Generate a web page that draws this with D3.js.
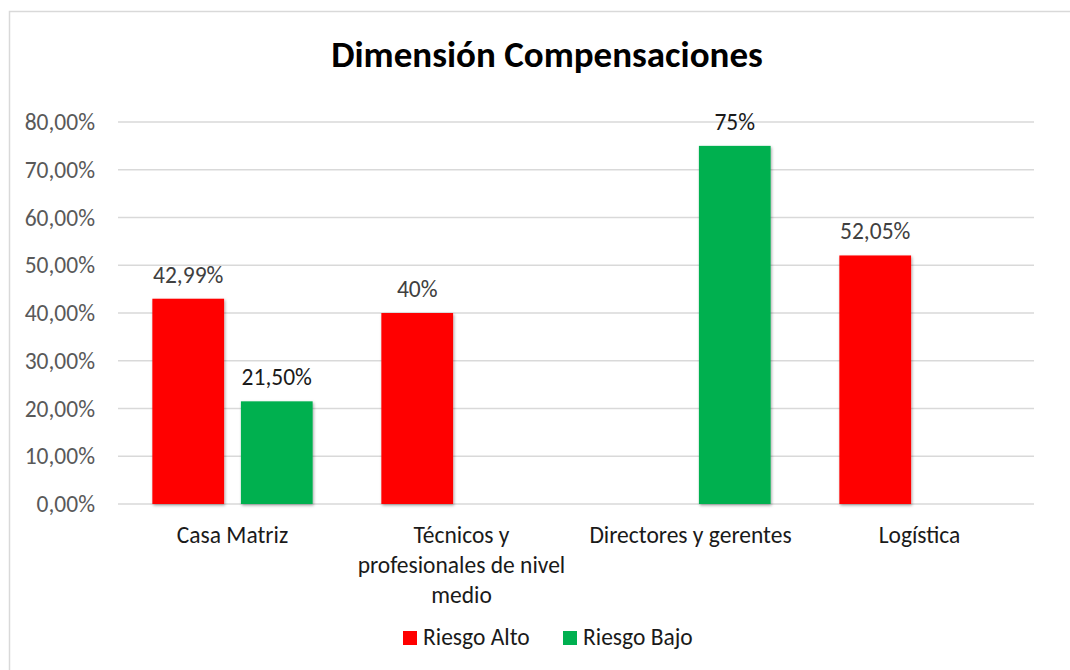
<!DOCTYPE html>
<html>
<head>
<meta charset="utf-8">
<script src="https://cdn.jsdelivr.net/npm/d3@7/dist/d3.min.js"></script>
<style>
  html, body { margin: 0; padding: 0; background: #fff; }
  svg { display: block; }
  text { font-family: Carlito, Calibri, Lato, "Open Sans", sans-serif; }
</style>
</head>
<body>
<svg id="chart" width="1070" height="670"></svg>
<script>
// Chart data
const categories = [
  "Casa Matriz",
  "Técnicos y profesionales de nivel medio",
  "Directores y gerentes",
  "Logística"
];
const categoryLines = [
  ["Casa Matriz"],
  ["Técnicos y", "profesionales de nivel", "medio"],
  ["Directores y gerentes"],
  ["Logística"]
];
const seriesNames = ["Riesgo Alto", "Riesgo Bajo"];
const riesgoAlto = [42.99, 40, null, 52.05];
const riesgoBajo = [21.50, null, 75, null];
const valueLabels = {
  "Riesgo Alto": ["42,99%", "40%", null, "52,05%"],
  "Riesgo Bajo": ["21,50%", null, "75%", null]
};
const yTicks = [0, 10, 20, 30, 40, 50, 60, 70, 80];
const title = "Dimensión Compensaciones";

const colors = { "Riesgo Alto": "#ff0000", "Riesgo Bajo": "#00b050" };
const labelColors = { "Riesgo Alto": "#404040", "Riesgo Bajo": "#1a1a1a" };

const FS = 23.5;

const svg = d3.select("#chart");

// Outer chart frame
svg.append("rect")
  .attr("x", 9.5).attr("y", 11.5)
  .attr("width", 1080).attr("height", 680)
  .attr("fill", "#fff")
  .attr("stroke", "#d9d9d9").attr("stroke-width", 1.5);

const plot = { left: 118, right: 1034, top: 122, bottom: 504 };

const x0 = d3.scaleBand()
  .domain(categories)
  .range([plot.left, plot.right])
  .paddingInner(0.3)
  .paddingOuter(0.15);

const x1 = d3.scaleBand()
  .domain(seriesNames)
  .range([0, x0.bandwidth()])
  .paddingInner(0.19);

const y = d3.scaleLinear()
  .domain([0, 80])
  .range([plot.bottom, plot.top]);

// Shadow under the bars
const defs = svg.append("defs");
const f = defs.append("filter").attr("id", "shadow")
  .attr("x", "-20%").attr("y", "-10%").attr("width", "140%").attr("height", "130%");
f.append("feDropShadow")
  .attr("dx", 1).attr("dy", 1.5).attr("stdDeviation", 1.6)
  .attr("flood-color", "#000").attr("flood-opacity", 0.35);

// Gridlines
svg.append("g")
  .selectAll("line")
  .data(yTicks)
  .join("line")
  .attr("x1", plot.left).attr("x2", plot.right)
  .attr("y1", d => y(d)).attr("y2", d => y(d))
  .attr("stroke", "#d9d9d9").attr("stroke-width", 1.5);

// Y axis labels
const yAxis = d3.axisLeft(y)
  .tickValues(yTicks)
  .tickSize(0)
  .tickPadding(23)
  .tickFormat(d => d3.format(".2f")(d).replace(".", ",") + "%");

svg.append("g")
  .attr("transform", `translate(${plot.left},0)`)
  .call(yAxis)
  .call(g => g.select(".domain").remove())
  .call(g => g.selectAll("text")
    .attr("font-size", FS)
    .attr("fill", "#595959")
    .style("font-family", "Carlito, Calibri, Lato, 'Open Sans', sans-serif"));

// Bars
const rows = categories.map((c, i) => ({
  cat: c,
  vals: [
    { s: "Riesgo Alto", v: riesgoAlto[i], label: valueLabels["Riesgo Alto"][i] },
    { s: "Riesgo Bajo", v: riesgoBajo[i], label: valueLabels["Riesgo Bajo"][i] }
  ].filter(d => d.v !== null)
}));

const groups = svg.append("g")
  .selectAll("g")
  .data(rows)
  .join("g")
  .attr("transform", d => `translate(${x0(d.cat)},0)`);

groups.selectAll("rect")
  .data(d => d.vals)
  .join("rect")
  .attr("x", d => x1(d.s))
  .attr("y", d => y(d.v))
  .attr("width", x1.bandwidth())
  .attr("height", d => y(0) - y(d.v))
  .attr("fill", d => colors[d.s])
  .attr("filter", "url(#shadow)");

groups.selectAll("text")
  .data(d => d.vals)
  .join("text")
  .attr("x", d => x1(d.s) + x1.bandwidth() / 2)
  .attr("y", d => y(d.v) - 16)
  .attr("text-anchor", "middle")
  .attr("font-size", FS)
  .attr("fill", d => labelColors[d.s])
  .text(d => d.label);

// Category labels
const xl = svg.append("g")
  .selectAll("text")
  .data(categories)
  .join("text")
  .attr("text-anchor", "middle")
  .attr("font-size", FS)
  .attr("fill", "#1a1a1a")
  .attr("x", d => x0(d) + x0.bandwidth() / 2)
  .attr("y", 543);

xl.selectAll("tspan")
  .data((d, i) => categoryLines[i])
  .join("tspan")
  .attr("x", function () { return d3.select(this.parentNode).attr("x"); })
  .attr("dy", (d, i) => i === 0 ? 0 : 30)
  .text(d => d);

// Title
svg.append("text")
  .attr("x", 547).attr("y", 67)
  .attr("text-anchor", "middle")
  .attr("font-size", 37)
  .attr("font-weight", "bold")
  .attr("fill", "#000")
  .text(title);

// Legend
const legend = svg.append("g");
const legendX = [403, 563];
seriesNames.forEach((s, i) => {
  const g = legend.append("g").attr("transform", `translate(${legendX[i]},631)`);
  g.append("rect").attr("width", 14).attr("height", 14).attr("fill", colors[s]);
  g.append("text")
    .attr("x", 20).attr("y", 14)
    .attr("font-size", FS)
    .attr("fill", "#1a1a1a")
    .text(s);
});
</script>
</body>
</html>
